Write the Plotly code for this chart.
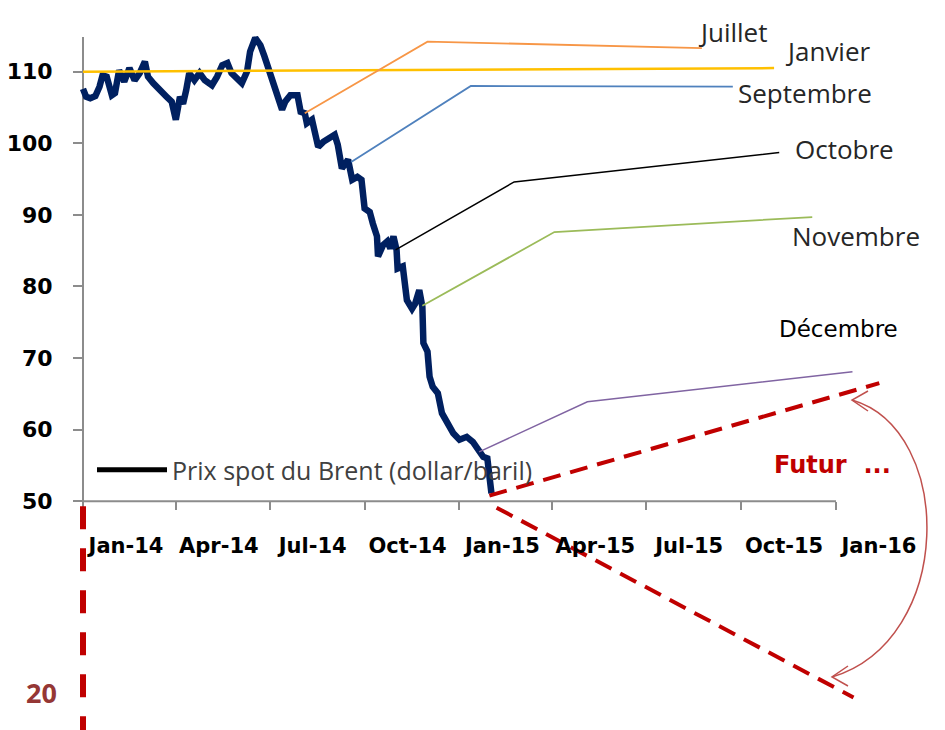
import plotly.graph_objects as go

# ---------------- data ----------------
brent_dates = [
    "2014-01-01", "2014-01-04", "2014-01-08", "2014-01-13", "2014-01-17", "2014-01-20",
    "2014-01-24", "2014-01-29", "2014-02-01", "2014-02-05", "2014-02-10", "2014-02-15",
    "2014-02-20", "2014-02-25", "2014-03-02", "2014-03-05", "2014-03-10", "2014-03-17",
    "2014-03-23", "2014-03-28", "2014-04-01", "2014-04-05", "2014-04-08", "2014-04-11",
    "2014-04-14", "2014-04-19", "2014-04-24", "2014-04-29", "2014-05-06", "2014-05-11",
    "2014-05-16", "2014-05-21", "2014-05-25", "2014-05-30", "2014-06-04", "2014-06-09",
    "2014-06-12", "2014-06-17", "2014-06-22", "2014-06-26", "2014-07-01", "2014-07-06",
    "2014-07-09", "2014-07-13", "2014-07-16", "2014-07-21", "2014-07-28", "2014-07-31",
    "2014-08-04", "2014-08-06", "2014-08-11", "2014-08-14", "2014-08-17", "2014-08-22",
    "2014-08-29", "2014-09-02", "2014-09-05", "2014-09-09", "2014-09-15", "2014-09-19",
    "2014-09-24", "2014-09-28", "2014-10-01", "2014-10-06", "2014-10-09", "2014-10-13",
    "2014-10-14", "2014-10-19", "2014-10-23", "2014-10-26", "2014-10-29", "2014-11-01",
    "2014-11-02", "2014-11-07", "2014-11-11", "2014-11-16", "2014-11-19", "2014-11-23",
    "2014-11-26", "2014-11-27", "2014-12-01", "2014-12-03", "2014-12-06", "2014-12-11",
    "2014-12-15", "2014-12-20", "2014-12-26", "2015-01-01", "2015-01-08", "2015-01-14",
    "2015-01-19", "2015-01-24", "2015-01-28", "2015-01-30", "2015-02-01",
]
brent_values = [
    107.6, 106.5, 106.3, 106.6, 107.9, 109.5,
    109.3, 106.7, 107.0, 110.2, 108.6, 110.5,
    108.8, 109.8, 111.4, 109.3, 108.4, 107.2,
    106.5, 105.8, 103.3, 106.5, 105.5, 107.4,
    109.8, 108.8, 109.8, 108.8, 108.1, 109.3,
    110.9, 111.2, 109.8, 109.1, 108.4, 110.0,
    112.8, 114.7, 113.7, 112.1, 109.8, 107.9,
    105.8, 104.7, 105.8, 106.7, 106.7, 104.4,
    104.2, 102.8, 103.3, 100.9, 99.5, 100.2,
    100.7, 101.2, 99.8, 96.5, 97.7, 94.9,
    95.3, 94.9, 90.9, 90.4, 88.8, 87.0,
    84.2, 85.8, 86.3, 85.3, 87.0, 85.1,
    82.5, 82.8, 78.1, 76.9, 77.6, 79.5,
    77.2, 72.1, 70.9, 67.4, 66.0, 65.1,
    62.3, 60.9, 59.5, 58.6, 59.0, 58.3,
    57.1, 56.2, 56.0, 52.1, 51.1,
]

janvier_dates = ["2014-01-01", "2015-11-02"]
janvier_values = [110.0, 110.5]
juillet_dates = ["2014-08-04", "2014-12-01", "2015-08-24"]
juillet_values = [104.2, 114.2, 113.3]
septembre_dates = ["2014-09-18", "2015-01-12", "2015-09-23"]
septembre_values = [97.4, 108.0, 107.9]
octobre_dates = ["2014-10-31", "2015-02-23", "2015-11-07"]
octobre_values = [85.1, 94.6, 98.7]
novembre_dates = ["2014-11-26", "2015-04-03", "2015-12-09"]
novembre_values = [77.3, 87.6, 89.7]
decembre_dates = ["2015-01-20", "2015-05-05", "2016-01-17"]
decembre_values = [56.9, 63.9, 68.1]
futur_haut_dates = ["2015-01-30", "2016-02-12"]
futur_haut_values = [50.8, 66.5]
futur_bas_dates = ["2015-02-06", "2016-01-18"]
futur_bas_values = [49.1, 22.6]

tick_dates = ["2014-01-01", "2014-04-01", "2014-07-01", "2014-10-01", "2015-01-01",
              "2015-04-01", "2015-07-01", "2015-10-01", "2016-01-01"]
tick_labels = ["Jan-14", "Apr-14", "Jul-14", "Oct-14", "Jan-15",
               "Apr-15", "Jul-15", "Oct-15", "Jan-16"]
y_ticks = [50, 60, 70, 80, 90, 100, 110]

# ---------------- layout helpers ----------------
W, H = 945, 730
ML, MR, MT, MB = 60, 0, 30, 0
Y_RANGE = [18.06, 115.82]
X_RANGE = ["2013-12-09 16:48", "2016-04-15 16:48"]
Y_AXIS_PX = 83


def P(px, py):
    """pixel -> paper coordinates"""
    return (px - ML) / (W - ML - MR), (H - MB - py) / (H - MT - MB)


fig = go.Figure()

fig.add_trace(go.Scatter(x=brent_dates, y=brent_values, mode="lines",
                         line=dict(color="#002060", width=6.5), showlegend=False,
                         hoverinfo="skip"))

curves = [
    (janvier_dates, janvier_values, "#FFC000", 2.5),
    (juillet_dates, juillet_values, "#F79646", 1.8),
    (septembre_dates, septembre_values, "#4F81BD", 1.8),
    (octobre_dates, octobre_values, "#000000", 1.5),
    (novembre_dates, novembre_values, "#9BBB59", 1.8),
    (decembre_dates, decembre_values, "#8064A2", 1.5),
]
for d, v, c, w in curves:
    fig.add_trace(go.Scatter(x=d, y=v, mode="lines", line=dict(color=c, width=w),
                             showlegend=False, hoverinfo="skip"))

for d, v in [(futur_haut_dates, futur_haut_values), (futur_bas_dates, futur_bas_values)]:
    fig.add_trace(go.Scatter(x=d, y=v, mode="lines",
                             line=dict(color="#C00000", width=4, dash="18px,10px"),
                             showlegend=False, hoverinfo="skip"))

# legend entry
fig.add_trace(go.Scatter(x=[None], y=[None], mode="lines",
                         line=dict(color="#000000", width=5),
                         name="Prix spot du Brent (dollar/baril)"))

shapes = []
# y axis line (from 50 upward)
shapes.append(dict(type="line", xref="x", yref="y", x0=tick_dates[0], x1=tick_dates[0],
                   y0=50, y1=114.85, line=dict(color="#8C8C8C", width=2), layer="below"))
# x axis line
shapes.append(dict(type="line", xref="x", yref="y", x0=tick_dates[0], x1=tick_dates[-1],
                   y0=50, y1=50, line=dict(color="#8C8C8C", width=2), layer="below"))
# red dashed vertical line below the axis
shapes.append(dict(type="line", xref="x", yref="y", x0=tick_dates[0], x1=tick_dates[0],
                   y0=49.3, y1=Y_RANGE[0],
                   line=dict(color="#C00000", width=6, dash="23px,19px")))
# curved double arrow
a = P(852, 400); b = P(955, 430); c = P(955, 640); d = P(832, 677)
shapes.append(dict(type="path", xref="paper", yref="paper",
                   path=f"M{a[0]},{a[1]} C{b[0]},{b[1]} {c[0]},{c[1]} {d[0]},{d[1]}",
                   line=dict(color="#C0504D", width=1.5)))
h1 = P(868, 391); h2 = P(868, 411)
shapes.append(dict(type="path", xref="paper", yref="paper",
                   path=f"M{h1[0]},{h1[1]} L{a[0]},{a[1]} L{h2[0]},{h2[1]}",
                   line=dict(color="#C0504D", width=1.5)))
k1 = P(848, 666); k2 = P(848, 686)
shapes.append(dict(type="path", xref="paper", yref="paper",
                   path=f"M{k1[0]},{k1[1]} L{d[0]},{d[1]} L{k2[0]},{k2[1]}",
                   line=dict(color="#C0504D", width=1.5)))

annotations = []
label_font = dict(family="Open Sans", size=26, color="#262626")
for text, px, py in [("Juillet", 733, 32), ("Janvier", 828, 51), ("Septembre", 805, 93),
                     ("Octobre", 844, 149), ("Novembre", 856, 236)]:
    x, y = P(px, py)
    annotations.append(dict(text=text, x=x, y=y, xref="paper", yref="paper",
                            xanchor="center", yanchor="middle", showarrow=False,
                            font=label_font))
x, y = P(838, 329)
annotations.append(dict(text="Décembre", x=x, y=y, xref="paper", yref="paper",
                        xanchor="center", yanchor="middle", showarrow=False,
                        font=dict(family="DejaVu Sans", size=23, color="#000000")))
x, y = P(832, 465)
annotations.append(dict(text="Futur\u00a0\u00a0...", x=x, y=y, xref="paper", yref="paper",
                        xanchor="center", yanchor="middle", showarrow=False,
                        font=dict(family="DejaVu Sans", size=24, color="#C00000",
                                  weight="bold")))
x, y = P(41, 692)
annotations.append(dict(text="<b>20</b>", x=x, y=y, xref="paper", yref="paper",
                        xanchor="center", yanchor="middle", showarrow=False,
                        font=dict(family="Open Sans", size=27, color="#953735")))

x_axis_pos = (50 - Y_RANGE[0]) / (Y_RANGE[1] - Y_RANGE[0])
y_axis_pos = (Y_AXIS_PX - ML) / (W - ML - MR)
lx, ly = P(92, 470)

fig.update_layout(
    width=W, height=H,
    margin=dict(l=ML, r=MR, t=MT, b=MB),
    plot_bgcolor="white", paper_bgcolor="white",
    xaxis=dict(type="date", range=X_RANGE, anchor="free", position=x_axis_pos,
               tickvals=tick_dates, ticktext=tick_labels, showgrid=False,
               zeroline=False, showline=False, ticks="outside", ticklen=8,
               tickwidth=2, tickcolor="#8C8C8C", ticklabelshift=43,
               ticklabelstandoff=18,
               tickfont=dict(family="DejaVu Sans", size=21, color="#000000",
                             weight="bold")),
    yaxis=dict(range=Y_RANGE, tickvals=y_ticks, showgrid=False, zeroline=False,
               anchor="free", position=y_axis_pos,
               showline=False, ticks="outside", ticklen=10, tickwidth=2,
               tickcolor="#8C8C8C", ticklabelstandoff=16,
               tickfont=dict(family="DejaVu Sans", size=22, color="#000000",
                             weight="bold")),
    showlegend=True,
    legend=dict(x=lx, y=ly, xanchor="left", yanchor="middle", bgcolor="rgba(0,0,0,0)",
                itemwidth=70,
                font=dict(family="Open Sans", size=25, color="#404040")),
    shapes=shapes,
    annotations=annotations,
)

fig.write_html("out.html", config={"displayModeBar": False},
               post_script="document.body.style.margin='0';document.body.style.overflow='hidden';")
